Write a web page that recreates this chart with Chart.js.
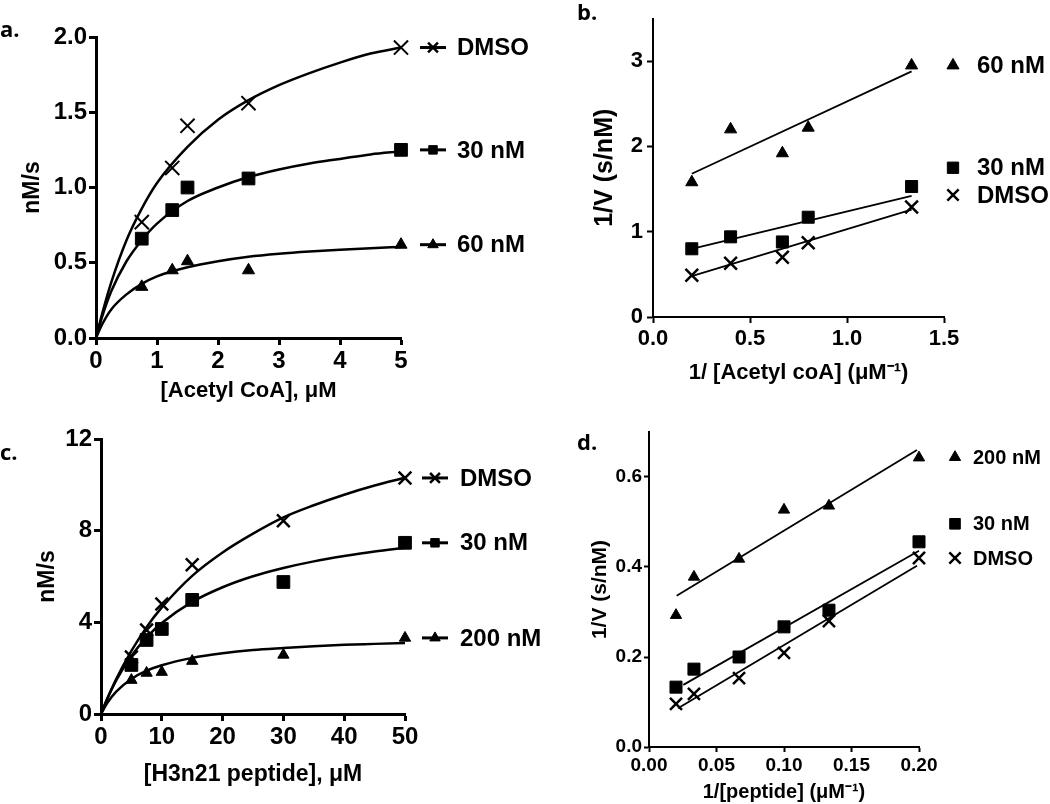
<!DOCTYPE html>
<html>
<head>
<meta charset="utf-8">
<script src="https://cdn.jsdelivr.net/npm/chart.js@4.4.0/dist/chart.umd.min.js"></script>
<style>
  body { margin: 0; background: #fff; width: 1050px; height: 804px; position: relative; overflow: hidden; }
  canvas { position: absolute; }
</style>
</head>
<body>
<canvas id="pa" width="580" height="404" style="left:0;top:0"></canvas>
<canvas id="pb" width="520" height="404" style="left:530px;top:0"></canvas>
<canvas id="pc" width="580" height="404" style="left:0;top:400px"></canvas>
<canvas id="pd" width="520" height="404" style="left:530px;top:400px"></canvas>
<script>
// ---- a. rate vs [Acetyl CoA] ----
const acoa = [0.75, 1.25, 1.5, 2.5, 5];
const aDmso = [0.77, 1.13, 1.41, 1.56, 1.93];
const a30 = [0.66, 0.85, 1.00, 1.06, 1.25];
const a60 = [0.34, 0.45, 0.51, 0.45, 0.62];
// fitted curves
const aFitX = [0, 0.1, 0.25, 0.5, 0.75, 1, 1.5, 2, 2.5, 3, 3.5, 4, 4.5, 5];
const aFitDmso = [0, 0.16, 0.37, 0.65, 0.86, 1.03, 1.27, 1.45, 1.58, 1.68, 1.76, 1.83, 1.89, 1.93];
const aFit30 = [0, 0.14, 0.31, 0.51, 0.65, 0.76, 0.91, 1.00, 1.07, 1.12, 1.16, 1.19, 1.22, 1.24];
const aFit60 = [0, 0.09, 0.19, 0.29, 0.36, 0.41, 0.47, 0.51, 0.54, 0.56, 0.575, 0.587, 0.597, 0.605];

// ---- b. double reciprocal, acetyl CoA ----
const invAcoa = [0.2, 0.4, 0.667, 0.8, 1.333];
const b60 = [1.58, 2.20, 1.92, 2.22, 2.95];
const b30 = [0.80, 0.94, 0.88, 1.17, 1.53];
const bDmso = [0.49, 0.63, 0.70, 0.87, 1.29];
const bFitX = [0.2, 1.333];
const bFit60 = [1.68, 2.88];
const bFit30 = [0.80, 1.42];
const bFitDmso = [0.48, 1.26];

// ---- c. rate vs [H3n21 peptide] ----
const pep = [5, 7.5, 10, 15, 30, 50];
const cDmso = [2.49, 3.67, 4.80, 6.51, 8.43, 10.3];
const c30 = [2.14, 3.23, 3.71, 4.98, 5.76, 7.47];
const c200 = [1.48, 1.79, 1.83, 2.31, 2.58, 3.32];
const cFitX = [0, 1, 2.5, 5, 7.5, 10, 15, 20, 25, 30, 35, 40, 45, 50];
const cFitDmso = [0, 0.64, 1.52, 2.75, 3.79, 4.65, 6.03, 7.05, 7.87, 8.58, 9.11, 9.57, 9.97, 10.31];
const cFit30 = [0, 0.65, 1.47, 2.53, 3.34, 3.97, 4.89, 5.53, 6.01, 6.37, 6.66, 6.89, 7.09, 7.25];
const cFit200 = [0, 0.47, 0.98, 1.53, 1.89, 2.13, 2.45, 2.65, 2.79, 2.88, 2.96, 3.02, 3.06, 3.10];

// ---- d. double reciprocal, peptide ----
const invPep = [0.02, 0.0333, 0.0667, 0.1, 0.1333, 0.2];
const d200 = [0.293, 0.378, 0.418, 0.527, 0.536, 0.643];
const d30 = [0.133, 0.173, 0.200, 0.267, 0.304, 0.456];
const dDmso = [0.096, 0.118, 0.153, 0.209, 0.280, 0.420];
const dFit200X = [0.0205, 0.1985], dFit200 = [0.336, 0.660];
const dFit30X = [0.0254, 0.2], dFit30 = [0.138, 0.436];
const dFitDmsoX = [0.0215, 0.1985], dFitDmso = [0.086, 0.403];

const BLACK = '#000';
const FONT = '"Liberation Sans", Arial, sans-serif';

function xy(xs, ys) { return xs.map((x, i) => ({ x: x, y: ys[i] })); }

function marks(xs, ys, style, r, bw) {
  return {
    data: xy(xs, ys), showLine: false, pointStyle: style, pointRadius: r, pointHoverRadius: r,
    pointBorderWidth: bw, backgroundColor: BLACK, borderColor: BLACK, clip: false
  };
}
function fitLine(xs, ys, w, smooth) {
  return {
    data: xy(xs, ys), showLine: true, pointRadius: 0, pointHoverRadius: 0, borderColor: BLACK,
    borderWidth: w, tension: smooth ? 0.4 : 0, cubicInterpolationMode: smooth ? 'monotone' : 'default',
    fill: false, clip: false
  };
}

function axis(o) {
  return {
    type: 'linear', min: o.min, max: o.max,
    border: { display: true, color: BLACK, width: o.lw },
    grid: { display: true, drawOnChartArea: false, drawTicks: true, tickLength: o.tl, tickWidth: o.lw, tickColor: BLACK },
    ticks: {
      stepSize: o.step, includeBounds: false, color: BLACK, padding: o.tp, autoSkip: false, maxRotation: 0,
      font: { family: FONT, size: o.fs, weight: 'bold' },
      callback: v => Number(v).toFixed(o.dec)
    },
    title: {
      display: true, text: o.title, color: BLACK, padding: o.tpad,
      font: { family: FONT, size: o.ts, weight: 'bold', lineHeight: 1.2 }
    },
    afterFit: s => { if (s.isHorizontal()) s.height = o.size; else s.width = o.size; }
  };
}

// legend entries placed beside the plot, at a value on the y scale
const sideLegend = {
  id: 'sideLegend',
  afterDatasetsDraw(chart, args, opts) {
    if (!opts.items) return;
    const { ctx, chartArea, scales } = chart;
    ctx.save();
    opts.items.forEach(it => {
      const y = scales.y.getPixelForValue(it.value);
      const mx = chartArea.right + opts.markerDx;
      ctx.strokeStyle = BLACK;
      ctx.fillStyle = BLACK;
      if (opts.withLine) {
        ctx.lineWidth = 3;
        ctx.beginPath();
        ctx.moveTo(mx - 13, y);
        ctx.lineTo(mx + 13, y);
        ctx.stroke();
      }
      ctx.lineWidth = it.bw || 2;
      Chart.helpers.drawPoint(ctx, { pointStyle: it.style, radius: it.r, borderWidth: it.bw || 2, rotation: 0 }, mx, y);
      ctx.fillStyle = BLACK;
      ctx.font = 'bold ' + opts.size + 'px ' + FONT;
      ctx.textBaseline = 'middle';
      ctx.textAlign = 'left';
      ctx.fillText(it.label, chartArea.right + opts.textDx, y + 1);
    });
    ctx.restore();
  }
};

// panel letter
const panelTag = {
  id: 'panelTag',
  afterDraw(chart, args, opts) {
    if (!opts.text) return;
    const ctx = chart.ctx;
    ctx.save();
    ctx.fillStyle = BLACK;
    ctx.font = 'bold 22px "Open Sans", ' + FONT;
    ctx.textBaseline = 'alphabetic';
    ctx.textAlign = 'left';
    ctx.fillText(opts.text, opts.x, opts.y);
    ctx.restore();
  }
};

Chart.register(sideLegend, panelTag);

function panel(id, datasets, xAx, yAx, pad, legend, tag) {
  return new Chart(document.getElementById(id), {
    type: 'scatter',
    data: { datasets: datasets },
    options: {
      responsive: false, animation: false, devicePixelRatio: 1,
      layout: { padding: { top: pad.top, right: pad.right, left: 0, bottom: 0 } },
      plugins: { legend: { display: false }, tooltip: { enabled: false }, sideLegend: legend, panelTag: tag },
      scales: { x: axis(xAx), y: axis(yAx) }
    }
  });
}

// a.
panel('pa', [
  fitLine(aFitX, aFitDmso, 2.5, true),
  fitLine(aFitX, aFit30, 2.5, true),
  fitLine(aFitX, aFit60, 2.5, true),
  marks(acoa, aDmso, 'crossRot', 10, 2),
  marks(acoa, a30, 'rect', 9, 1),
  marks(acoa, a60, 'triangle', 7, 1)
],
  { min: 0, max: 5, step: 1, dec: 0, lw: 3, tl: 7, tp: 2, fs: 24, ts: 22, title: '[Acetyl CoA], μM', tpad: { top: 0, bottom: 0 }, size: 66 },
  { min: 0, max: 2, step: 0.5, dec: 1, lw: 3, tl: 7, tp: 2, fs: 24, ts: 23, title: 'nM/s', tpad: { top: 19, bottom: 0 }, size: 96 },
  { top: 37, right: 179 },
  { markerDx: 32, textDx: 56, withLine: true, size: 24, items: [
    { label: 'DMSO', style: 'crossRot', r: 7, bw: 2.5, value: aDmso[4] },
    { label: '30 nM', style: 'rect', r: 6, bw: 1, value: a30[4] },
    { label: '60 nM', style: 'triangle', r: 6, bw: 1, value: a60[4] }
  ] },
  { text: 'a.', x: 0, y: 37 }
);

// b.
panel('pb', [
  fitLine(bFitX, bFit60, 1.8, false),
  fitLine(bFitX, bFit30, 1.8, false),
  fitLine(bFitX, bFitDmso, 1.8, false),
  marks(invAcoa, b60, 'triangle', 7, 1),
  marks(invAcoa, b30, 'rect', 8.5, 1),
  marks(invAcoa, bDmso, 'crossRot', 9, 2.5)
],
  { min: 0, max: 1.5, step: 0.5, dec: 1, lw: 2, tl: 6, tp: 3, fs: 22, ts: 22, title: '1/ [Acetyl coA] (μM⁻¹)', tpad: { top: 0, bottom: 18 }, size: 87 },
  { min: 0, max: 3.5, step: 1, dec: 0, lw: 2, tl: 6, tp: 4, fs: 22, ts: 25, title: '1/V (s/nM)', tpad: { top: 60, bottom: 0 }, size: 123 },
  { top: 18.5, right: 106 },
  { markerDx: 9, textDx: 33, withLine: false, size: 24, items: [
    { label: '60 nM', style: 'triangle', r: 7, bw: 1, value: 2.95 },
    { label: '30 nM', style: 'rect', r: 8, bw: 1, value: 1.75 },
    { label: 'DMSO', style: 'crossRot', r: 8, bw: 2.5, value: 1.43 }
  ] },
  { text: 'b.', x: 47, y: 20 }
);

// c.
panel('pc', [
  fitLine(cFitX, cFitDmso, 2.5, true),
  fitLine(cFitX, cFit30, 2.5, true),
  fitLine(cFitX, cFit200, 2.5, true),
  marks(pep, cDmso, 'crossRot', 9, 2.5),
  marks(pep, c30, 'rect', 9, 1),
  marks(pep, c200, 'triangle', 6.5, 1)
],
  { min: 0, max: 50, step: 10, dec: 0, lw: 3, tl: 7, tp: 2, fs: 24, ts: 23, title: '[H3n21 peptide], μM', tpad: { top: 0, bottom: 16 }, size: 90 },
  { min: 0, max: 12, step: 4, dec: 0, lw: 3, tl: 7, tp: 2, fs: 24, ts: 23, title: 'nM/s', tpad: { top: 34, bottom: 0 }, size: 101 },
  { top: 39, right: 175 },
  { markerDx: 30, textDx: 55, withLine: true, size: 24, items: [
    { label: 'DMSO', style: 'crossRot', r: 7, bw: 2.5, value: cDmso[5] },
    { label: '30 nM', style: 'rect', r: 6, bw: 1, value: c30[5] },
    { label: '200 nM', style: 'triangle', r: 6, bw: 1, value: c200[5] }
  ] },
  { text: 'c.', x: 0, y: 60 }
);

// d.
panel('pd', [
  fitLine(dFit200X, dFit200, 1.8, false),
  fitLine(dFit30X, dFit30, 1.8, false),
  fitLine(dFitDmsoX, dFitDmso, 1.8, false),
  marks(invPep, d200, 'triangle', 6.5, 1),
  marks(invPep, d30, 'rect', 8.5, 1),
  marks(invPep, dDmso, 'crossRot', 8.5, 2.5)
],
  { min: 0, max: 0.2, step: 0.05, dec: 2, lw: 2, tl: 5, tp: 2, fs: 19, ts: 20, title: '1/[peptide] (μM⁻¹)', tpad: { top: 0, bottom: 0 }, size: 57 },
  { min: 0, max: 0.7, step: 0.2, dec: 1, lw: 2, tl: 5, tp: 2, fs: 19, ts: 21, title: '1/V (s/nM)', tpad: { top: 58, bottom: 0 }, size: 119 },
  { top: 32, right: 131 },
  { markerDx: 36, textDx: 54, withLine: false, size: 20, items: [
    { label: '200 nM', style: 'triangle', r: 6.5, bw: 1, value: 0.644 },
    { label: '30 nM', style: 'rect', r: 7.5, bw: 1, value: 0.496 },
    { label: 'DMSO', style: 'crossRot', r: 8, bw: 2.5, value: 0.42 }
  ] },
  { text: 'd.', x: 47, y: 50 }
);
</script>
</body>
</html>
